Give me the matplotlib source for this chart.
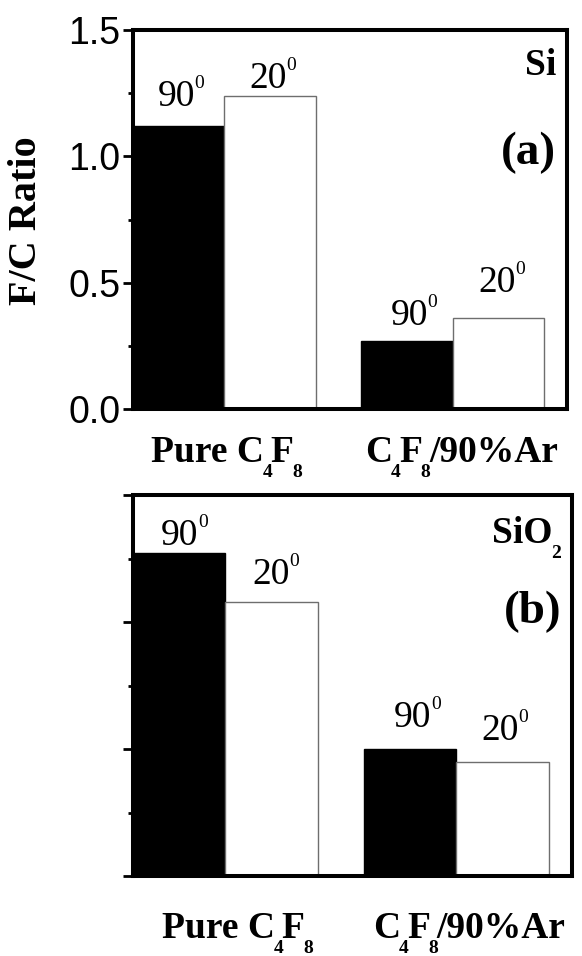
import matplotlib
matplotlib.use("Agg")
import matplotlib.pyplot as plt
from matplotlib.ticker import MultipleLocator, NullFormatter
from matplotlib.transforms import IdentityTransform

# Group labels: (piece text, is_subscript)
groups_pieces = [
    [("Pure C", False), ("4", True), ("F", False), ("8", True)],
    [("C", False), ("4", True), ("F", False), ("8", True), ("/90%Ar", False)],
]
angles = ["90", "20"]

# F/C ratio values for each panel: [90 deg, 20 deg] per gas mixture
si_90 = [1.12, 0.27]
si_20 = [1.24, 0.36]
sio2_90 = [1.27, 0.50]
sio2_20 = [1.08, 0.45]

W, H, DPI = 582, 956, 100
SERIF = "Liberation Serif"
SANS = "Liberation Sans"

fig = plt.figure(figsize=(W / DPI, H / DPI), dpi=DPI)
fig.patch.set_facecolor("white")

ax_a = fig.add_axes([133 / W, 1 - 409 / H, (567 - 133) / W, (409 - 30) / H])
ax_b = fig.add_axes([133 / W, 1 - 876 / H, (572 - 133) / W, (876 - 495) / H])

renderer = fig.canvas.get_renderer()


def rich_text(x, y, pieces, ha="center", gap=-1.5):
    """Place a run of text pieces (text, size, rise_px, weight) on one baseline.
    x, y are display pixels."""
    arts = []
    total = 0.0
    for s, size, rise, weight in pieces:
        t = fig.text(0, 0, s, fontsize=size, fontweight=weight, family=SERIF,
                     va="baseline", ha="left", transform=IdentityTransform())
        w = t.get_window_extent(renderer).width + gap
        arts.append((t, w, rise))
        total += w
    total -= gap
    if ha == "center":
        cur = x - total / 2
    elif ha == "right":
        cur = x - total
    else:
        cur = x
    for t, w, rise in arts:
        t.set_position((cur, y + rise))
        cur += w


def style_axes(ax, show_labels):
    ax.set_xlim(-0.4, 1.5)
    ax.set_ylim(0, 1.5)
    ax.set_xticks([])
    ax.yaxis.set_major_locator(MultipleLocator(0.5))
    ax.yaxis.set_minor_locator(MultipleLocator(0.25))
    ax.tick_params(axis="y", which="major", direction="out", length=7, width=2.0,
                   pad=2, labelsize=27)
    ax.tick_params(axis="y", which="minor", direction="out", length=3.5, width=2.0)
    if not show_labels:
        ax.yaxis.set_major_formatter(NullFormatter())
    else:
        ax.yaxis.set_major_formatter(plt.FuncFormatter(lambda v, p: f"{v:.1f}"))
        for lbl in ax.get_yticklabels():
            lbl.set_family(SANS)
    for sp in ax.spines.values():
        sp.set_linewidth(2.9)


def draw_panel(ax, v90, v20, label_offsets, group_baseline_px, group_dx):
    xs = [0, 1]
    bw = 0.4
    ax.bar([x - bw / 2 for x in xs], v90, width=bw, color="black",
           edgecolor="black", linewidth=1)
    ax.bar([x + bw / 2 for x in xs], v20, width=bw, color="white",
           edgecolor="#6e6e6e", linewidth=1)
    # angle labels above the bars
    k = 0
    for i, x in enumerate(xs):
        for xb, val, ang in ((x - bw / 2, v90[i], angles[0]), (x + bw / 2, v20[i], angles[1])):
            px, py = ax.transData.transform((xb, val))
            dx, dy = label_offsets[k]
            rich_text(px + dx, py + dy,
                      [(ang, 27, 0, "normal"), ("0", 14, 18, "normal")], gap=-0.5)
            k += 1
    # group names under the axis
    x0, y0 = ax.transData.transform((0, 0))
    for i, pieces in enumerate(groups_pieces):
        gx, _ = ax.transData.transform((xs[i], 0))
        rich_text(gx + group_dx[i], y0 - group_baseline_px,
                  [(s, 14, -15, "bold") if sub else (s, 27, 0, "bold")
                   for s, sub in pieces])


style_axes(ax_a, True)
style_axes(ax_b, False)

draw_panel(ax_a, si_90, si_20,
           [(2, 20), (3, 8), (7, 16), (3, 26)], 53, [2, 9])
draw_panel(ax_b, sio2_90, sio2_20,
           [(5, 8), (4, 18), (7, 22), (2, 22)], 62, [12, 13])

# panel tags
ax_a.text(0.975, 0.881, "Si", transform=ax_a.transAxes, ha="right", va="baseline",
          family=SERIF, fontweight="bold", fontsize=27)
ax_a.text(0.975, 0.645, "(a)", transform=ax_a.transAxes, ha="right", va="baseline",
          family=SERIF, fontweight="bold", fontsize=34)

bx, by = ax_b.transAxes.transform((0.975, 0.874))
rich_text(bx, by, [("SiO", 27, 0, "bold"), ("2", 14, -15, "bold")], ha="right")
ax_b.text(0.975, 0.665, "(b)", transform=ax_b.transAxes, ha="right", va="baseline",
          family=SERIF, fontweight="bold", fontsize=34)

fig.text(27 / W, 1 - 221 / H, "F/C Ratio", rotation=90, ha="center", va="center",
         family=SERIF, fontweight="bold", fontsize=29)

fig.savefig("out.png", dpi=DPI, facecolor="white")
